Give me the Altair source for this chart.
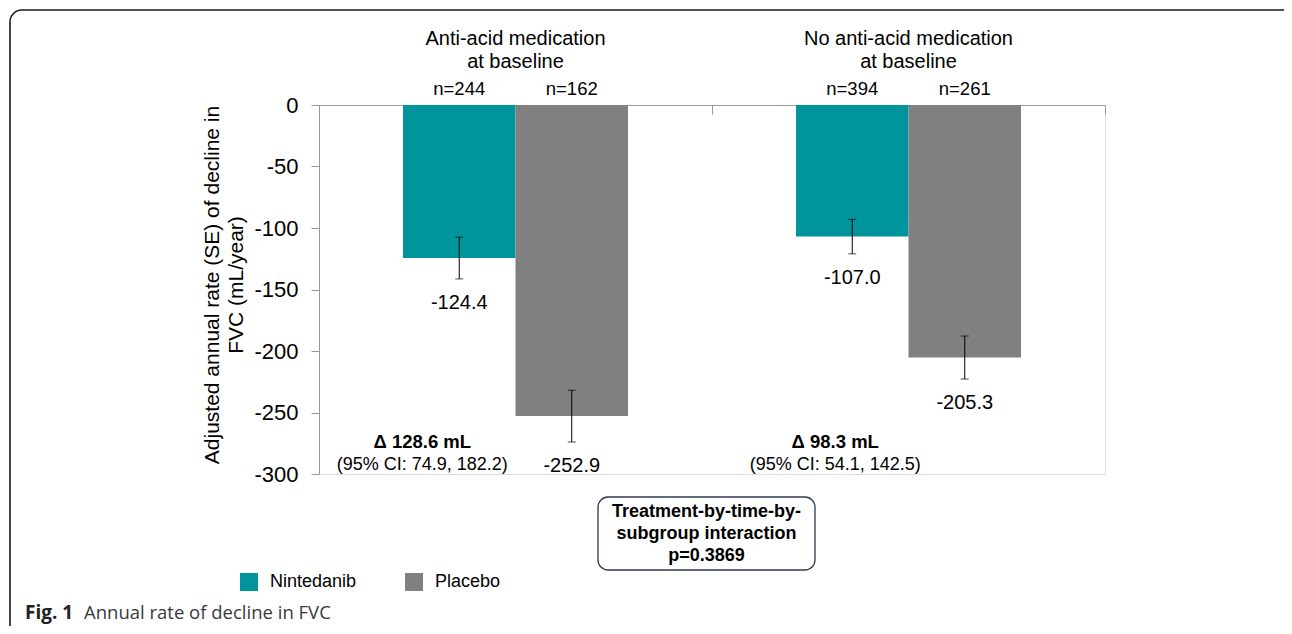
import altair as alt
import pandas as pd

# ---- data ----
groups = ["Anti-acid", "No anti-acid"]
header_line1 = ["Anti-acid medication", "No anti-acid medication"]
header_line2 = ["at baseline", "at baseline"]
treatments = ["Nintedanib", "Placebo"]
rates = [-124.4, -252.9, -107.0, -205.3]
ses = [17.0, 21.0, 14.0, 17.5]
ns = [244, 162, 394, 261]
deltas = ["\u0394 128.6 mL", "\u0394 98.3 mL"]
cis = ["(95% CI: 74.9, 182.2)", "(95% CI: 54.1, 142.5)"]
box_lines = ["Treatment-by-time-by-", "subgroup interaction", "p=0.3869"]
y_ticks = [0, -50, -100, -150, -200, -250, -300]
y_title = ["Adjusted annual rate (SE) of decline in", "FVC (mL/year)"]
caption_bold = "Fig. 1"
caption_text = "Annual rate of decline in FVC"

rows = []
k = 0
for g in groups:
    for t in treatments:
        r = rates[k]
        s = ses[k]
        rows.append({"group": g, "treatment": t, "rate": r, "lo": r - s, "hi": r + s,
                     "label": f"{r:.1f}", "n": f"n={ns[k]}"})
        k += 1
df = pd.DataFrame(rows)
gdf = pd.DataFrame({"group": groups, "l1": header_line1, "l2": header_line2,
                    "delta": deltas, "ci": cis, "treatment": ["Nintedanib"] * 2})
one = pd.DataFrame({"a": [0]})

FONT = "Liberation Sans"
W, H = 786, 369

xs = alt.Scale(domain=groups, paddingInner=0, paddingOuter=0)
xos = alt.Scale(domain=treatments, paddingInner=0, paddingOuter=0.747)
ys = alt.Scale(domain=[-300, 0], nice=False, zero=False)

xaxis = alt.Axis(orient="bottom", offset=-H, labels=False, title=None, tickBand="extent",
                 tickSize=9, domainColor="#9a9a9a", tickColor="#9a9a9a", grid=False)
yaxis = alt.Axis(values=y_ticks, title=None, labelExpr="'' + datum.value", labelFontSize=22,
                 labelFont=FONT, labelColor="black", labelPadding=13, tickSize=8,
                 domainColor="#9a9a9a", tickColor="#9a9a9a", grid=False)

X = alt.X("group:N", scale=xs, axis=xaxis, sort=groups)
XO = alt.XOffset("treatment:N", scale=xos, sort=treatments)

base = alt.Chart(df)

frame = alt.Chart(one).mark_rect(fillOpacity=0, stroke="#1a1a1a", strokeWidth=1.6,
                                 cornerRadius=12).encode(
    x=alt.value(-309), x2=alt.value(1000), y=alt.value(-95), y2=alt.value(640))

bars = base.mark_bar().encode(
    x=X, xOffset=XO,
    y=alt.Y("rate:Q", scale=ys, axis=yaxis),
    color=alt.Color("treatment:N", sort=treatments,
                    scale=alt.Scale(domain=treatments, range=["#00959d", "#808080"]),
                    legend=alt.Legend(orient="none", legendX=-79, legendY=468,
                                      direction="horizontal", title=None,
                                      symbolType="square", symbolSize=324,
                                      symbolStrokeWidth=0, symbolOpacity=1,
                                      labelFontSize=18, labelFont=FONT, labelColor="black",
                                      labelOffset=12, columnPadding=48)),
)

err = base.mark_rule(color="black", strokeWidth=1).encode(
    x=X, xOffset=XO, y=alt.Y("lo:Q", scale=ys, axis=yaxis), y2="hi:Q")
cap_lo = base.mark_tick(orient="horizontal", size=8, thickness=1, color="black").encode(
    x=X, xOffset=XO, y=alt.Y("lo:Q", scale=ys, axis=yaxis))
cap_hi = base.mark_tick(orient="horizontal", size=8, thickness=1, color="black").encode(
    x=X, xOffset=XO, y=alt.Y("hi:Q", scale=ys, axis=yaxis))

vals = base.mark_text(fontSize=20, font=FONT, color="black", dy=24, baseline="middle").encode(
    x=X, xOffset=XO, y=alt.Y("lo:Q", scale=ys, axis=yaxis), text="label:N")

nlab = base.mark_text(fontSize=18.5, font=FONT, color="black", baseline="middle").encode(
    x=X, xOffset=XO, y=alt.value(-16), text="n:N")

hdr1 = alt.Chart(gdf).mark_text(fontSize=20, font=FONT, color="black", baseline="middle").encode(
    x=X, y=alt.value(-66), text="l1:N")
hdr2 = alt.Chart(gdf).mark_text(fontSize=20, font=FONT, color="black", baseline="middle").encode(
    x=X, y=alt.value(-43), text="l2:N")

delta_layers = []
for g, dxv in zip(groups, [-37, -17]):
    sub = alt.Chart(gdf).transform_filter(alt.datum.group == g)
    delta_layers.append(sub.mark_text(fontSize=18.5, font=FONT, fontWeight="bold", color="black",
                                      baseline="middle", dx=dxv).encode(
        x=X, xOffset=XO, y=alt.value(337), text="delta:N"))
    delta_layers.append(sub.mark_text(fontSize=18, font=FONT, color="black",
                                      baseline="middle", dx=dxv).encode(
        x=X, xOffset=XO, y=alt.value(360), text="ci:N"))

box = alt.Chart(one).mark_rect(fill="white", stroke="#2e3a52", strokeWidth=1.3,
                               cornerRadius=10).encode(
    x=alt.value(279), x2=alt.value(496), y=alt.value(392), y2=alt.value(465))
box_text = [alt.Chart(one).mark_text(fontSize=18, font=FONT, fontWeight="bold", color="black",
                                     baseline="middle", text=line).encode(
    x=alt.value(387.5), y=alt.value(yy)) for line, yy in zip(box_lines, [407, 429, 451])]

ytitle = [alt.Chart(one).mark_text(fontSize=21, font=FONT, color="black", angle=270,
                                   baseline="middle", text=line).encode(
    x=alt.value(xx), y=alt.value(180)) for line, xx in zip(y_title, [-106, -82])]

cap1 = alt.Chart(one).mark_text(fontSize=19, font="Open Sans", fontWeight="bold", color="#222222",
                                align="left", baseline="middle", text=caption_bold).encode(
    x=alt.value(-294), y=alt.value(508))
cap2 = alt.Chart(one).mark_text(fontSize=18.5, font="Open Sans", color="#3a3a3a",
                                align="left", baseline="middle", text=caption_text).encode(
    x=alt.value(-235), y=alt.value(508))

chart = alt.layer(frame, bars, err, cap_lo, cap_hi, vals, nlab, hdr1, hdr2, *delta_layers,
                  box, *box_text, *ytitle, cap1, cap2).properties(
    width=W, height=H,
    autosize=alt.AutoSizeParams(type="none"),
    padding={"left": 311, "top": 97, "right": 179, "bottom": 152},
).configure_view(stroke=None).configure(font=FONT)

chart.save("out.html", embed_options={"renderer": "svg", "actions": False})
